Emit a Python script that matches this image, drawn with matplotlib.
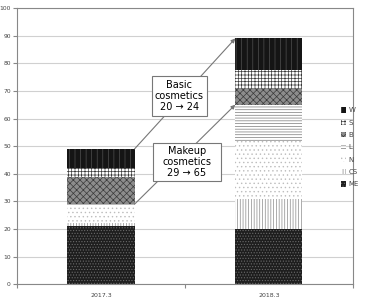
import matplotlib
matplotlib.use("Agg")
import matplotlib.pyplot as plt
from matplotlib.patches import Rectangle
import numpy as np

periods = ["2017.3", "2018.3"]
segments = ["ME", "CS", "N", "L", "B", "S", "W"]
values = {
    "ME": [21, 20],
    "CS": [1, 11],
    "N": [6.5, 21],
    "L": [0.5, 13],
    "B": [10, 6],
    "S": [3, 6.5],
    "W": [7, 11.5],
}
makeup = [29, 65]
basic = [20, 24]

# pattern fills: (face, hatch colour, hatch)
styles = {
    "ME": ("#1e1e1e", "#6a6a6a", "......"),
    "CS": ("#ffffff", "#8a8a8a", "||||||"),
    "N": ("#ffffff", "#bdbdbd", "...."),
    "L": ("#ffffff", "#7a7a7a", "------"),
    "B": ("#8c8c8c", "#3a3a3a", "xxxxx"),
    "S": ("#ffffff", "#3a3a3a", "+++++"),
    "W": ("#151515", "#505050", "|||"),
}

plt.rcParams["hatch.linewidth"] = 0.5
plt.rcParams["font.family"] = ["DejaVu Sans"]

fig = plt.figure(figsize=(3.79, 2.97), dpi=100)
ax = fig.add_axes([0.045, 0.043, 0.886, 0.930])

x = np.arange(len(periods))
w = 0.4
bottom = np.zeros(len(periods))
handles = {}
for s in segments:
    face, hc, hatch = styles[s]
    v = np.array(values[s])
    bars = ax.bar(x, v, w, bottom=bottom, color=face, edgecolor=hc,
                  hatch=hatch, linewidth=0, zorder=2, label=s)
    handles[s] = bars
    bottom += v

ax.set_xlim(-0.5, 1.5)
ax.set_ylim(0, 100)
ax.set_yticks(range(0, 101, 10))
ax.set_xticks([-0.5, 0.5, 1.5], minor=False)
ax.set_xticklabels([])
ax.set_xticks(x, minor=True)
ax.set_xticklabels(periods, minor=True)
ax.tick_params(axis="x", which="minor", length=0, labelsize=4.5, colors="#444444", pad=6)
ax.tick_params(axis="x", which="major", length=3, color="#888888")
ax.tick_params(axis="y", labelsize=4.3, colors="#444444", length=3, color="#888888", pad=1.5)
ax.yaxis.grid(True, color="#d0d0d0", linewidth=0.8, zorder=0)
for sp in ax.spines.values():
    sp.set_color("#888888")
    sp.set_linewidth(0.8)

# arrows between bars, with labelled boxes on top
totals = bottom
def link(y0, y1, label, box):
    ax.annotate("", xy=(1 - w / 2, y1), xytext=(w / 2, y0),
                arrowprops=dict(arrowstyle="-|>", color="#777777", lw=0.8,
                                mutation_scale=6, shrinkA=0, shrinkB=0), zorder=3)
    bx0, bx1, by0, by1 = box
    ax.add_patch(Rectangle((bx0, by0), bx1 - bx0, by1 - by0, fc="white",
                           ec="#777777", lw=0.8, zorder=4))
    ax.text((bx0 + bx1) / 2, (by0 + by1) / 2, label, ha="center", va="center",
            fontsize=7, linespacing=1.15, zorder=5)

link(totals[0], totals[1], "Basic\ncosmetics\n%d \u2192 %d" % (basic[0], basic[1]),
     (0.304, 0.631, 61.0, 75.4))
link(makeup[0], makeup[1], "Makeup\ncosmetics\n%d \u2192 %d" % (makeup[0], makeup[1]),
     (0.310, 0.714, 37.4, 51.2))

hl = [handles[s] for s in reversed(segments)]
fig.legend(hl, list(reversed(segments)), loc="upper left",
           bbox_to_anchor=(0.89, 0.65), frameon=False, fontsize=5,
           handlelength=0.8, handleheight=0.8, handletextpad=0.3,
           labelspacing=0.9, borderpad=0, labelcolor="#444444")

fig.savefig("out.png", dpi=100)
